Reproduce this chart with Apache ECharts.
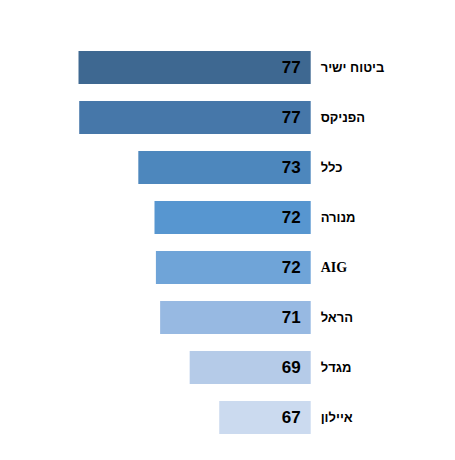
<!DOCTYPE html>
<html>
<head>
<meta charset="utf-8">
<script src="https://cdn.jsdelivr.net/npm/echarts@6/dist/echarts.min.js"></script>
<style>
  html, body { margin: 0; padding: 0; background: #fff; }
  #chart { width: 455px; height: 460px; }
</style>
</head>
<body>
<div id="chart"></div>
<script>
// חברות הביטוח - מלמעלה למטה
var companies = ['ביטוח ישיר', 'הפניקס', 'כלל', 'מנורה', 'AIG', 'הראל', 'מגדל', 'איילון'];
// ציונים (מוערכים לפי אורך העמודות)
var scores = [77.0, 76.95, 72.75, 71.6, 71.5, 71.2, 69.1, 67.0];
var barColors = ['#3e6891', '#4677a9', '#4d87bd', '#5796d0', '#6fa4d8', '#97b9e2', '#b5cbe8', '#cbdaef'];

// svg כדי שהטקסט העברי יוצג מימין לשמאל
var myChart = echarts.init(document.getElementById('chart'), null, { renderer: 'svg' });

var data = [];
for (var i = 0; i < scores.length; i++) {
  data.push({ value: scores[i], itemStyle: { color: barColors[i] } });
}

var option = {
  animation: false,
  grid: { left: 57.4, right: 144.3, top: 42.5, bottom: 17.5, containLabel: false },
  xAxis: {
    type: 'value',
    inverse: true,
    min: 60.5,
    max: 78.5,
    show: false
  },
  yAxis: {
    type: 'category',
    inverse: true,
    position: 'right',
    data: companies,
    axisLine: { show: false },
    axisTick: { show: false },
    axisLabel: {
      margin: 10,
      align: 'left',
      color: '#000',
      fontWeight: 'bold',
      fontSize: 13,
      fontFamily: 'Liberation Sans, Arial, sans-serif',
      formatter: function(v) {
        return v === 'AIG' ? '{s|AIG}' : v;
      },
      rich: {
        s: { fontFamily: 'Liberation Serif, serif', fontWeight: 'bold', fontSize: 14, color: '#000' }
      }
    }
  },
  series: [
    {
      type: 'bar',
      barWidth: 33,
      data: data,
      label: {
        show: true,
        position: 'insideRight',
        distance: 10,
        color: '#000',
        fontWeight: 'bold',
        fontSize: 17,
        fontFamily: 'Liberation Sans, Arial, sans-serif',
        formatter: function(p) {
          return Math.round(p.value);
        }
      }
    }
  ]
};
myChart.setOption(option);
</script>
</body>
</html>
